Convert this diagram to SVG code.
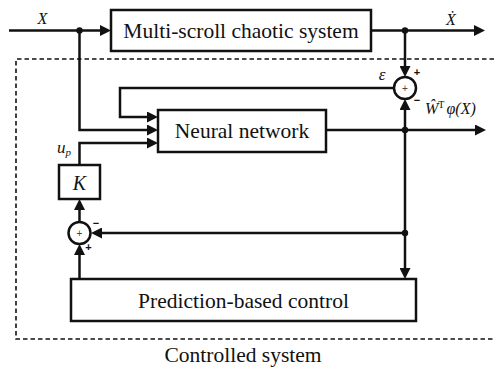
<svg xmlns="http://www.w3.org/2000/svg" width="494" height="368" viewBox="0 0 494 368">
  <style>
    .box { fill: #fff; stroke: #111; stroke-width: 2.5; }
    .wire { fill: none; stroke: #111; stroke-width: 2.5; }
    .dash { fill: none; stroke: #111; stroke-width: 1.6; stroke-dasharray: 4.5 3; }
    .sum { fill: #fff; stroke: #111; stroke-width: 2.5; }
    .lbl { font-family: "Liberation Serif", "Times New Roman", serif; fill: #111; }
    .big { font-size: 21.5px; }
    .it { font-style: italic; }
    .sign { font-family: "Liberation Sans", Arial, sans-serif; font-size: 11px; font-weight: bold; fill: #111; }
    .inner { font-family: "Liberation Sans", Arial, sans-serif; font-size: 10px; fill: #444; }
  </style>
  <defs>
    <marker id="arr" viewBox="0 0 11 11" refX="0" refY="5.5" markerWidth="11" markerHeight="11" markerUnits="userSpaceOnUse" orient="auto">
      <path d="M0,0 L11,5.5 L0,11 z" fill="#111"/>
    </marker>
  </defs>

  <!-- controlled-system boundary -->
  <path class="dash" d="M494,59 H16 V339 H494"/>
  <text class="lbl big" x="243" y="362" text-anchor="middle">Controlled system</text>

  <g id="chaotic-system">
    <rect class="box" x="111" y="10" width="260" height="41"/>
    <text class="lbl big" x="241" y="37.5" text-anchor="middle">Multi-scroll chaotic system</text>
  </g>

  <g id="neural-network">
    <rect class="box" x="158" y="110" width="168" height="42"/>
    <text class="lbl big" x="242" y="138" text-anchor="middle">Neural network</text>
  </g>

  <g id="gain-k">
    <rect class="box" x="59" y="165" width="41" height="34"/>
    <text class="lbl it" x="79.5" y="190" font-size="20" text-anchor="middle">K</text>
  </g>

  <g id="prediction-control">
    <rect class="box" x="71" y="279" width="345" height="42"/>
    <text class="lbl big" x="243.5" y="308" text-anchor="middle">Prediction-based control</text>
  </g>

  <g id="sum-error">
    <circle class="sum" cx="405" cy="88" r="11"/>
    <text class="inner" x="405" y="91.5" text-anchor="middle">+</text>
    <text class="sign" x="417" y="76" text-anchor="middle">+</text>
    <text class="sign" x="417" y="104" text-anchor="middle">−</text>
  </g>

  <g id="sum-control">
    <circle class="sum" cx="79.5" cy="233" r="11"/>
    <text class="inner" x="79.5" y="236.5" text-anchor="middle">+</text>
    <text class="sign" x="96" y="227" text-anchor="middle">−</text>
    <text class="sign" x="88.5" y="251" text-anchor="middle">+</text>
  </g>

  <g id="connectors">
    <!-- state input X -->
    <path class="wire" d="M9,30.5 H100" marker-end="url(#arr)"/>
    <!-- derivative output -->
    <path class="wire" d="M371,30.5 H474" marker-end="url(#arr)"/>
    <path class="wire" d="M405,30.5 V66" marker-end="url(#arr)"/>
    <!-- error fed back into the network -->
    <path class="wire" d="M394,88 H120 V117 H147" marker-end="url(#arr)"/>
    <!-- X into the network -->
    <path class="wire" d="M79.5,30.5 V130 H147" marker-end="url(#arr)"/>
    <!-- u_p into the network -->
    <path class="wire" d="M79.5,165 V143 H147" marker-end="url(#arr)"/>
    <!-- network output -->
    <path class="wire" d="M326,130 H475" marker-end="url(#arr)"/>
    <path class="wire" d="M405,131 V110" marker-end="url(#arr)"/>
    <path class="wire" d="M405,129 V268" marker-end="url(#arr)"/>
    <!-- feedback to the control summer -->
    <path class="wire" d="M405,233 H102" marker-end="url(#arr)"/>
    <path class="wire" d="M79.5,279 V255" marker-end="url(#arr)"/>
    <path class="wire" d="M79.5,222 V210" marker-end="url(#arr)"/>
    <!-- junction dots -->
    <circle cx="79.5" cy="30.5" r="3.2" fill="#111"/>
    <circle cx="405" cy="30.5" r="3.2" fill="#111"/>
    <circle cx="405" cy="130" r="3.2" fill="#111"/>
    <circle cx="405" cy="233" r="3.2" fill="#111"/>
  </g>

  <!-- signal labels -->
  <text class="lbl it" x="42.5" y="24" font-size="16" text-anchor="middle">X</text>
  <text class="lbl it" x="451" y="25" font-size="16" text-anchor="middle">Ẋ</text>
  <text class="lbl it" x="382" y="80" font-size="17" text-anchor="middle">ε</text>
  <text class="lbl it" x="425" y="114" font-size="16">Ŵ<tspan font-size="10" dy="-6" font-style="normal">T</tspan><tspan dy="6" dx="2">φ</tspan>(X)</text>
  <text class="lbl it" x="57" y="153" font-size="17">u<tspan font-size="11" dy="3">p</tspan></text>
</svg>
